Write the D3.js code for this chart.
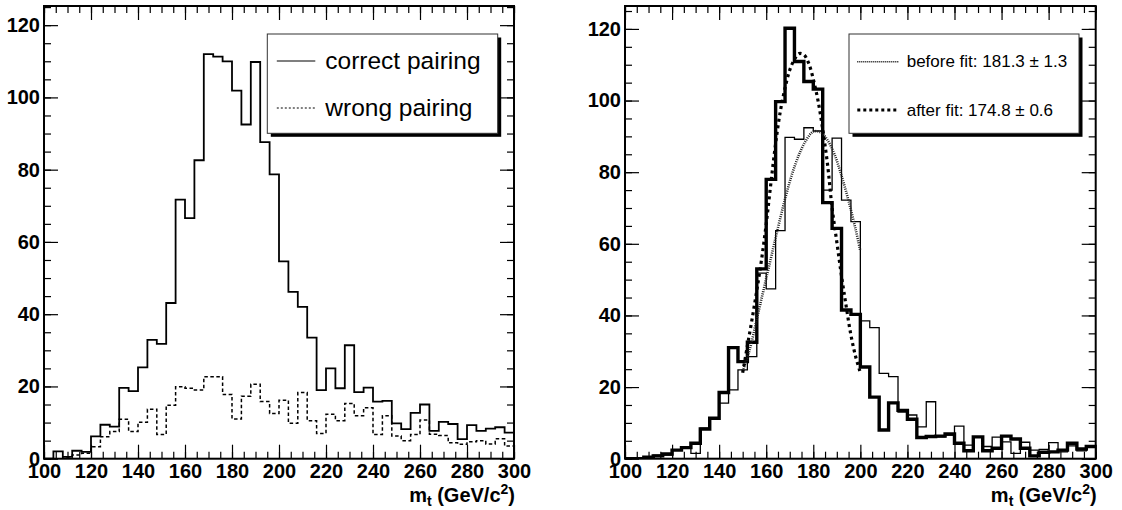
<!DOCTYPE html>
<html>
<head>
<meta charset="utf-8">
<script src="https://cdn.jsdelivr.net/npm/d3@7"></script>
<style>
  html, body { margin: 0; padding: 0; background: #fff; }
  svg { display: block; font-family: "Liberation Sans", Arial, Helvetica, sans-serif; }
  .tick-labels text { font-size: 20px; font-weight: bold; fill: #000; }
  .ticks line { stroke: #000; stroke-width: 1.2; }
  .axis-title { font-size: 20px; font-weight: bold; }
  .legend-text { fill: #000; }
</style>
</head>
<body>
<svg id="chart" width="1122" height="510"></svg>
<script>
// m_t histograms, 50 bins of 4 GeV from 100 to 300
const binEdges = d3.range(100, 300, 4);
const xTickValues = [100, 120, 140, 160, 180, 200, 220, 240, 260, 280, 300];
const yTickValues = [0, 20, 40, 60, 80, 100, 120];

const correctPairing = [0, 2, 0.5, 2.2, 1.9, 6.2, 9.4, 8.9, 19.6, 18.7,
  25.3, 32.9, 31.8, 43.1, 71.7, 66.6, 82.6, 112, 111.3, 110,
  101.9, 92.5, 109.8, 87.6, 78.7, 54.6, 46.2, 42, 33.5, 19,
  25, 19.5, 31.4, 18.4, 19.7, 15.8, 16, 9.8, 8.2, 12.7,
  15, 7.7, 10.2, 9.6, 5.4, 9.3, 7.7, 8.3, 8.7, 7.2];

const wrongPairing = [0, 0, 0.5, 1, 1.5, 3.3, 6.1, 7.5, 10.9, 7.5,
  10.1, 13.7, 6.7, 14.8, 19.9, 19.5, 19, 22.7, 22.7, 17.8,
  11, 17.3, 20.6, 15.8, 12.5, 16.2, 9.8, 18.3, 10.5, 7,
  12.3, 10.5, 15.3, 11.9, 14.1, 6.7, 11.9, 6.3, 5, 6.7,
  10.7, 6.8, 6.4, 4.4, 4, 4.7, 5, 4.1, 5.5, 3.5];

const beforeFitHist = [0, 0.3, 0.5, 1, 1, 2.4, 3, 1.5, 8.5, 11.3,
  15.5, 19.2, 24.8, 28.5, 51.8, 47.4, 63.7, 89.7, 89.2, 92.4,
  91.5, 75, 89.5, 72.2, 66.2, 38.5, 36.6, 23.8, 22.9, 13,
  12.2, 8.9, 15.9, 6.1, 6.6, 9.1, 3.8, 6.1, 3.4, 6,
  4.7, 1.5, 4.6, 2.4, 2.6, 4.5, 1.9, 3.6, 2.2, 3.5];

const afterFitHist = [0, 0, 0.4, 0.8, 1.3, 2.4, 3.1, 4.3, 8.3, 11.3,
  18.5, 31, 27.1, 32.5, 53, 78, 99.7, 120.2, 110.9, 105.3,
  103.2, 71.5, 64.3, 41.5, 40.3, 25.6, 17.2, 8, 15.6, 13.5,
  11, 5.9, 6.2, 6.3, 6.9, 4.3, 2.2, 6.1, 2.2, 2.9,
  6.3, 5.5, 2.9, 0.8, 1.8, 1.9, 2.4, 4.3, 2.7, 3.4];

// fitted curves as [m_t, entries]
const beforeFitCurve = [[150, 24.5], [153, 30.5], [156, 39], [159, 47.5], [162, 56], [165, 64.5],
  [168, 72.5], [171, 79.5], [174, 85], [177, 89], [180, 91.3], [183, 91.2], [186, 89],
  [189, 85], [192, 79], [195, 72], [198, 64], [200, 58]];

const afterFitCurve = [[150, 24], [152, 31.5], [154, 39], [156, 47], [158, 55.5], [160, 65.5],
  [162, 77], [164, 88], [166, 97], [168, 103.5], [170, 108.5], [172, 111.5], [174, 113.1],
  [176, 112.8], [178, 110.5], [180, 106], [182, 100], [184, 92], [186, 82.5], [188, 70],
  [190, 60.5], [192, 51], [194, 42.5], [196, 34.5], [198, 28.5], [200, 24]];

const svg = d3.select('#chart');
svg.append('rect').attr('width', 1122).attr('height', 510).attr('fill', '#fff');

const panels = [
  { id: 'left', left: 44, right: 514, top: 6, bottom: 458.7, yMax: 125.3 },
  { id: 'right', left: 625, right: 1095.7, top: 6, bottom: 458.7, yMax: 126.4 },
];

function makeScales(p) {
  const x = d3.scaleLinear().domain([100, 300]).range([p.left, p.right]);
  const y = d3.scaleLinear().domain([0, p.yMax]).range([p.bottom, p.top]);
  return { x, y };
}

function histPath(values, x, y) {
  const pts = values.map((v, i) => [binEdges[i], v]);
  pts.push([300, values[values.length - 1]]);
  return d3.line().x((d) => x(d[0])).y((d) => y(d[1])).curve(d3.curveStepAfter)(pts);
}

function drawTicks(p, x, y) {
  const xMinor = d3.range(100, 301, 5);
  const yMinor = d3.range(0, p.yMax, 5);
  const g = svg.append('g').attr('class', 'ticks');
  const strip = (sel) => sel.select('.domain').remove();

  const sides = [
    [d3.axisTop(x), `translate(0,${p.bottom})`, xMinor, xTickValues],
    [d3.axisBottom(x), `translate(0,${p.top})`, xMinor, xTickValues],
    [d3.axisRight(y), `translate(${p.left},0)`, yMinor, yTickValues],
    [d3.axisLeft(y), `translate(${p.right},0)`, yMinor, yTickValues],
  ];
  sides.forEach(([axis, tr, minor, major]) => {
    g.append('g').attr('transform', tr)
      .call(axis.tickValues(minor).tickSize(7).tickFormat(''))
      .call(strip);
    g.append('g').attr('transform', tr)
      .call(axis.tickValues(major).tickSize(14).tickFormat(''))
      .call(strip);
  });

  const labels = svg.append('g').attr('class', 'tick-labels');
  labels.append('g').attr('transform', `translate(0,${p.bottom})`)
    .call(d3.axisBottom(x).tickValues(xTickValues).tickSize(0).tickPadding(5))
    .call(strip);
  labels.append('g').attr('transform', `translate(${p.left},0)`)
    .call(d3.axisLeft(y).tickValues(yTickValues).tickSize(0).tickPadding(4))
    .call(strip);
  labels.selectAll('text').attr('font-family', null).attr('font-size', null);
}

function axisTitle(p) {
  const t = svg.append('text').attr('class', 'axis-title')
    .attr('x', p.right + 1).attr('y', 502).attr('text-anchor', 'end');
  t.append('tspan').text('m');
  t.append('tspan').attr('dy', 4).attr('font-size', 14).text('t');
  t.append('tspan').attr('dy', -4).text(' (GeV/c');
  t.append('tspan').attr('dy', -8).attr('font-size', 14).text('2');
  t.append('tspan').attr('dy', 8).text(')');
}

function legend(box, entries, fontSize) {
  const g = svg.append('g');
  g.append('rect').attr('x', box.x + 3.5).attr('y', box.y + 3.5)
    .attr('width', box.w).attr('height', box.h).attr('fill', '#000');
  g.append('rect').attr('x', box.x).attr('y', box.y)
    .attr('width', box.w).attr('height', box.h)
    .attr('fill', '#fff').attr('stroke', '#333').attr('stroke-width', 1);
  entries.forEach((e) => {
    g.append('line')
      .attr('x1', box.x + e.lineFrom).attr('x2', box.x + e.lineTo)
      .attr('y1', e.y).attr('y2', e.y)
      .attr('stroke', '#000').attr('stroke-width', e.width)
      .attr('stroke-dasharray', e.dash || null);
    g.append('text').attr('class', 'legend-text')
      .attr('x', box.x + e.textX).attr('y', e.y + e.baseline)
      .attr('font-size', fontSize).text(e.label);
  });
}

// ---- left panel: correct vs wrong pairing
{
  const p = panels[0];
  const { x, y } = makeScales(p);
  svg.append('clipPath').attr('id', 'clip-left').append('rect')
    .attr('x', p.left).attr('y', p.top).attr('width', p.right - p.left).attr('height', p.bottom - p.top);
  const plot = svg.append('g').attr('clip-path', 'url(#clip-left)');

  plot.append('path').attr('d', histPath(wrongPairing, x, y))
    .attr('fill', 'none').attr('stroke', '#000').attr('stroke-width', 1.5)
    .attr('stroke-dasharray', '3.5,2.5');
  plot.append('path').attr('d', histPath(correctPairing, x, y))
    .attr('fill', 'none').attr('stroke', '#000').attr('stroke-width', 1.8);

  drawTicks(p, x, y);
  svg.append('rect').attr('x', p.left).attr('y', p.top)
    .attr('width', p.right - p.left).attr('height', p.bottom - p.top)
    .attr('fill', 'none').attr('stroke', '#000').attr('stroke-width', 2);
  axisTitle(p);

  legend({ x: 267.3, y: 34, w: 230.4, h: 99.3 }, [
    { label: 'correct pairing', y: 61, lineFrom: 9.5, lineTo: 48, textX: 58, baseline: 8, width: 1.2 },
    { label: 'wrong pairing', y: 108, lineFrom: 9.5, lineTo: 48, textX: 58, baseline: 8, width: 1, dash: '2,2' },
  ], 24.5);
}

// ---- right panel: before / after fit
{
  const p = panels[1];
  const { x, y } = makeScales(p);
  svg.append('clipPath').attr('id', 'clip-right').append('rect')
    .attr('x', p.left).attr('y', p.top).attr('width', p.right - p.left).attr('height', p.bottom - p.top);
  const plot = svg.append('g').attr('clip-path', 'url(#clip-right)');

  plot.append('path').attr('d', histPath(beforeFitHist, x, y))
    .attr('fill', 'none').attr('stroke', '#000').attr('stroke-width', 1.3);
  plot.append('path').attr('d', histPath(afterFitHist, x, y))
    .attr('fill', 'none').attr('stroke', '#000').attr('stroke-width', 3.4);

  const curve = d3.line().x((d) => x(d[0])).y((d) => y(d[1])).curve(d3.curveCatmullRom);
  plot.append('path').attr('d', curve(beforeFitCurve))
    .attr('fill', 'none').attr('stroke', '#222').attr('stroke-width', 2.6)
    .attr('stroke-dasharray', '1,1.2');
  plot.append('path').attr('d', curve(afterFitCurve))
    .attr('fill', 'none').attr('stroke', '#000').attr('stroke-width', 3.2)
    .attr('stroke-dasharray', '3,3.5');

  drawTicks(p, x, y);
  svg.append('rect').attr('x', p.left).attr('y', p.top)
    .attr('width', p.right - p.left).attr('height', p.bottom - p.top)
    .attr('fill', 'none').attr('stroke', '#000').attr('stroke-width', 2);
  axisTitle(p);

  legend({ x: 849, y: 34, w: 230, h: 99.3 }, [
    { label: 'before fit: 181.3 \u00b1 1.3', y: 61.7, lineFrom: 8.3, lineTo: 49.3, textX: 57.7, baseline: 5.5, width: 1.5, dash: '1,1' },
    { label: 'after fit: 174.8 \u00b1 0.6', y: 110, lineFrom: 8.3, lineTo: 49.3, textX: 57.7, baseline: 5.5, width: 3, dash: '3,3' },
  ], 17);
}
</script>
</body>
</html>
